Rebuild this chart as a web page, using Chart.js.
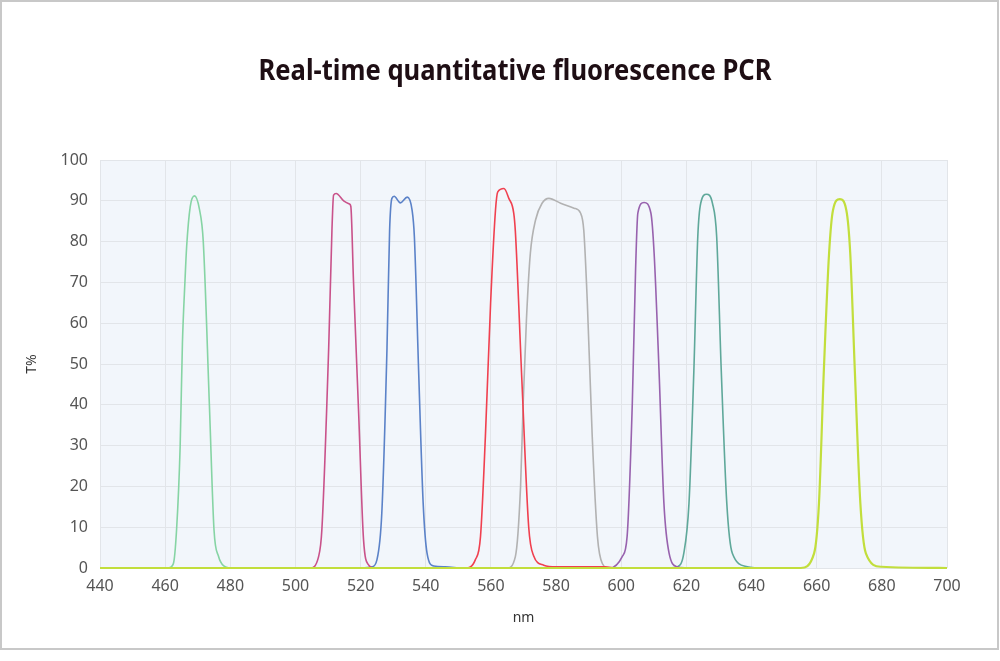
<!DOCTYPE html>
<html>
<head>
<meta charset="utf-8">
<title>Real-time quantitative fluorescence PCR</title>
<script src="https://cdn.jsdelivr.net/npm/chart.js@4.4.1/dist/chart.umd.min.js"></script>
<style>
  html, body { margin: 0; padding: 0; background: #fff; }
  #cont { position: relative; width: 1000px; height: 661px; }
</style>
</head>
<body>
<div id="cont"><canvas id="pcr-chart" width="1000" height="661"></canvas></div>
<script>
// Curvas de transmitancia (nm -> T%)
const chartTitle = 'Real-time quantitative fluorescence PCR';
const xTicks     = [440, 460, 480, 500, 520, 540, 560, 580, 600, 620, 640, 660, 680, 700];
const yTicks     = [0, 10, 20, 30, 40, 50, 60, 70, 80, 90, 100];

const greenNm  = [440, 461, 462.5, 463.5, 464.6, 465.3, 466.1, 466.6, 467.7, 469, 470.5, 471.7, 473.6, 475, 476.4, 478, 480];
const greenT   = [0, 0, 1, 9.3, 29.7, 55, 70.6, 78.8, 88.6, 91.2, 88, 80, 39.5, 9.3, 2.8, 0.5, 0];

const pinkNm   = [500, 504.5, 507.1, 508.1, 510.2, 511.2, 511.7, 512.5, 514.8, 516.6, 517, 517.8, 519.4, 520.9, 522.5, 524, 528];
const pinkT    = [0, 0, 2.8, 9.3, 54, 82.8, 91.4, 91.8, 90, 89.2, 88.6, 70.6, 37.9, 6.9, 0.7, 0, 0];

const blueNm   = [520, 523.5, 525, 526.5, 528.1, 528.9, 529.6, 530.3, 532.2, 534.3, 535.8, 536.5, 537.8, 539.2, 540.4, 542.4, 546, 550];
const blueT    = [0, 0.3, 2, 13.4, 54, 82.8, 90.6, 91.1, 89.5, 90.9, 87.7, 81.2, 48.5, 15.9, 3.6, 0.5, 0.3, 0];

const redNm    = [548, 552.2, 555.2, 556.8, 558.3, 559.9, 561.4, 562.1, 564, 565.5, 567, 567.5, 569.5, 571.6, 573.1, 576.2, 580, 595, 598];
const redT     = [0, 0, 2, 7.7, 32.2, 64.9, 87.7, 92.2, 93, 90.6, 87, 82.5, 46, 10, 3, 0.7, 0.3, 0.3, 0];

const grayNm   = [560, 565, 567.5, 569.1, 569.9, 570.9, 572.1, 573.7, 575.7, 577.8, 581.4, 585.5, 587.5, 588.5, 589.6, 591.1, 592.7, 594.2, 596.2, 600];
const grayT    = [0, 0, 2.8, 20, 40.4, 60.8, 77.1, 85.3, 89.4, 90.6, 89.4, 88.2, 87, 82.8, 64.9, 32.2, 7.7, 1.1, 0, 0];

const purpleNm = [594, 596.5, 600.3, 601.8, 603.4, 604.4, 605.1, 607, 609.1, 610.1, 611.6, 613.1, 614.7, 617.2, 620];
const purpleT  = [0, 0, 2.8, 7.7, 40.4, 73, 87, 89.6, 87, 77.1, 48.5, 15.9, 3.6, 0.3, 0];

const tealNm   = [615, 617.2, 619.2, 620.8, 622.3, 623.5, 624.4, 626.2, 628, 629.3, 630.7, 632.4, 634.1, 638.7, 642];
const tealT    = [0, 0.3, 3.6, 15.9, 48.5, 81.2, 89.4, 91.6, 89.4, 81.2, 48.5, 15.9, 3.6, 0.3, 0];

const limeNm   = [440, 655.1, 659.2, 660.7, 662.2, 663.8, 665, 667.1, 669.1, 670.3, 671.7, 673.4, 675.1, 679.8, 700];
const limeT    = [0, 0, 3.6, 15.9, 48.5, 77.1, 87.7, 90.4, 87.7, 77.1, 48.5, 15.9, 3.6, 0.3, 0];

const pares = (xs, ys) => xs.map((x, i) => ({ x, y: ys[i] }));

function serie(nm, t, color, ancho) {
  return {
    data: pares(nm, t),
    borderColor: color,
    borderWidth: ancho || 1.6,
    pointRadius: 0,
    fill: false,
    clip: false,
    cubicInterpolationMode: 'monotone'
  };
}

// Fondo del área de la gráfica, marco y título
const fondoPlugin = {
  id: 'fondo',
  beforeDraw(chart) {
    const { ctx, chartArea: a } = chart;
    ctx.save();
    ctx.fillStyle = '#fff';
    ctx.fillRect(0, 0, chart.width, chart.height);
    ctx.fillStyle = '#f2f6fb';
    ctx.fillRect(a.left, a.top, a.right - a.left, a.bottom - a.top);
    ctx.strokeStyle = '#c8c8c8';
    ctx.lineWidth = 2;
    ctx.strokeRect(1, 1, 997, 648);
    ctx.restore();
  },
  afterDraw(chart) {
    const ctx = chart.ctx;
    ctx.save();
    ctx.fillStyle = '#1e0e14';
    ctx.font = 'bold 28px "Noto Sans"';
    ctx.textAlign = 'center';
    ctx.textBaseline = 'middle';
    ctx.fillText(chartTitle, 515, 72, 513);
    ctx.restore();
  }
};

const ctx = document.getElementById('pcr-chart').getContext('2d');
window._pcrChart = new Chart(ctx, {
  type: 'line',
  data: {
    datasets: [
      serie(limeNm,   limeT,   '#c2de3c', 2.2),
      serie(greenNm,  greenT,  '#86d4a4'),
      serie(pinkNm,   pinkT,   '#c9528a'),
      serie(blueNm,   blueT,   '#5b82c8'),
      serie(redNm,    redT,    '#f0404f'),
      serie(grayNm,   grayT,   '#b2b2b2'),
      serie(purpleNm, purpleT, '#9862ae'),
      serie(tealNm,   tealT,   '#5fa89a')
    ]
  },
  options: {
    responsive: false,
    animation: false,
    layout: { padding: { top: 160, right: 53, bottom: 0, left: 0 } },
    plugins: {
      legend: { display: false },
      tooltip: { enabled: false }
    },
    scales: {
      x: {
        type: 'linear',
        min: 440,
        max: 700,
        afterBuildTicks: s => { s.ticks = xTicks.map(v => ({ value: v })); },
        afterFit: s => { s.height = 93; },
        grid: { color: '#e2e5e9', drawTicks: false },
        border: { display: false },
        ticks: { color: '#555', font: { family: 'Noto Sans', size: 16 }, padding: 9, maxRotation: 0 },
        title: { display: true, text: 'nm', color: '#333', font: { family: 'Noto Sans', size: 14 }, padding: { bottom: 35 } }
      },
      y: {
        min: 0,
        max: 100,
        afterBuildTicks: s => { s.ticks = yTicks.map(v => ({ value: v })); },
        afterFit: s => { s.width = 100; },
        grid: { color: '#e2e5e9', drawTicks: false },
        border: { display: false },
        ticks: { color: '#555', font: { family: 'Noto Sans', size: 16 }, padding: 12 },
        title: { display: true, text: 'T%', color: '#333', font: { family: 'Noto Sans', size: 14 }, padding: { top: 24 } }
      }
    }
  },
  plugins: [fondoPlugin]
});
</script>
</body>
</html>
